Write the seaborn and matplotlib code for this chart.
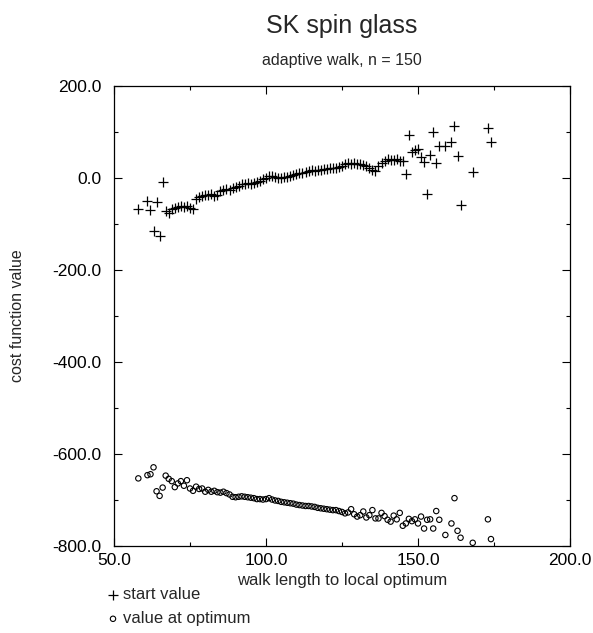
import matplotlib
matplotlib.use("Agg")
import matplotlib.pyplot as plt
import seaborn as sns
import pandas as pd
from matplotlib.ticker import MultipleLocator, FuncFormatter

# walk lengths (shared by both series)
walk_length = ([58, 61, 62, 63, 64, 65, 66]
               + list(range(67, 146))
               + [146, 147, 148, 149, 150, 151, 152, 153, 154, 155,
                  156, 157, 159, 161, 162, 163, 164, 168, 173, 174])

start_value = (
    [-68, -49, -70, -115, -53, -126, -8]
    + [-72, -75, -68, -65, -62, -60, -63, -61, -65, -68,
       -45, -42, -40, -36, -38, -35, -39, -37, -28, -26,
       -24, -25, -22, -20, -18, -14, -12, -11, -12, -10,
       -9, -7, -2, 1, 4, 5, 2, 1, 0, 2,
       3, 4, 6, 8, 10, 11, 13, 15, 17, 16,
       18, 17, 19, 20, 21, 22, 21, 24, 27, 30,
       32, 31, 33, 30, 31, 28, 26, 22, 18, 15,
       27, 33, 38, 41, 40, 39, 42, 38, 36]
    + [9, 93, 57, 60, 64, 45, 35, -35, 50, 100,
       33, 70, 70, 79, 112, 48, -58, 14, 108, 78]
)

optimum_value = (
    [-653, -646, -644, -629, -681, -691, -673]
    + [-647, -654, -659, -672, -664, -659, -669, -657, -675, -680,
       -671, -676, -675, -682, -678, -682, -680, -683, -684, -682,
       -685, -688, -693, -694, -693, -692, -693, -694, -695, -696,
       -698, -698, -699, -698, -696, -699, -701, -702, -704, -705,
       -706, -707, -708, -710, -711, -712, -713, -713, -714, -715,
       -717, -718, -719, -720, -721, -722, -722, -724, -726, -729,
       -727, -720, -731, -736, -733, -725, -738, -733, -722, -740,
       -740, -728, -735, -743, -747, -734, -742, -728, -756]
    + [-751, -741, -746, -742, -751, -736, -762, -743, -742, -762,
       -724, -743, -776, -751, -696, -767, -782, -793, -742, -785]
)

x_ticks = [50, 100, 150, 200]
y_ticks = [-800, -600, -400, -200, 0, 200]

df = pd.DataFrame({"walk": walk_length, "start": start_value, "opt": optimum_value})

sns.set_style("ticks")
plt.rcParams["font.family"] = ["Liberation Sans", "DejaVu Sans"]
plt.rcParams["axes.unicode_minus"] = False

W, H = 593, 633
fig = plt.figure(figsize=(W / 100, H / 100), dpi=100)
ax = fig.add_axes([114 / W, 1 - 546 / H, (570 - 114) / W, (546 - 86) / H])

sns.scatterplot(data=df, x="walk", y="start", marker="+", s=60, color="black",
                linewidth=0.9, ax=ax, label="start value", zorder=3)
sns.scatterplot(data=df, x="walk", y="opt", marker="o", s=15, facecolors="none",
                edgecolor="black", linewidth=0.8, ax=ax, label="value at optimum", zorder=3)

ax.set_xlim(50, 200)
ax.set_ylim(-800, 200)
ax.set_xticks(x_ticks)
ax.set_yticks(y_ticks)
ax.xaxis.set_minor_locator(MultipleLocator(25))
ax.yaxis.set_minor_locator(MultipleLocator(100))
fmt = FuncFormatter(lambda v, p: f"{v:.1f}")
ax.xaxis.set_major_formatter(fmt)
ax.yaxis.set_major_formatter(fmt)
ax.tick_params(which="both", direction="in", top=True, right=True,
               labelsize=12.5, colors="black", width=0.8)
ax.tick_params(which="major", length=6)
ax.tick_params(which="minor", length=3)
ax.tick_params(axis="y", which="major", pad=9)
ax.tick_params(axis="x", which="major", pad=5)
for sp in ax.spines.values():
    sp.set_visible(True)
    sp.set_linewidth(0.9)
    sp.set_color("black")

ax.set_xlabel("")
ax.set_ylabel("")
fig.text(342 / W, 1 - 581 / H, "walk length to local optimum", ha="center", va="center", fontsize=12)
fig.text(18 / W, 1 - 316 / H, "cost function value", ha="center", va="center",
         rotation=90, fontsize=11.5)
fig.text(342 / W, 1 - 26 / H, "SK spin glass", ha="center", va="center", fontsize=18)
fig.text(342 / W, 1 - 61 / H, "adaptive walk, n = 150", ha="center", va="center", fontsize=11.5)

ax.legend(loc="upper left", bbox_to_anchor=(108 / W, 1 - 587 / H),
          bbox_transform=fig.transFigure, frameon=False, fontsize=12,
          handlelength=0.6, handletextpad=0.3, labelspacing=0.55, borderaxespad=0,
          borderpad=0)

fig.savefig("out.png", dpi=100)
